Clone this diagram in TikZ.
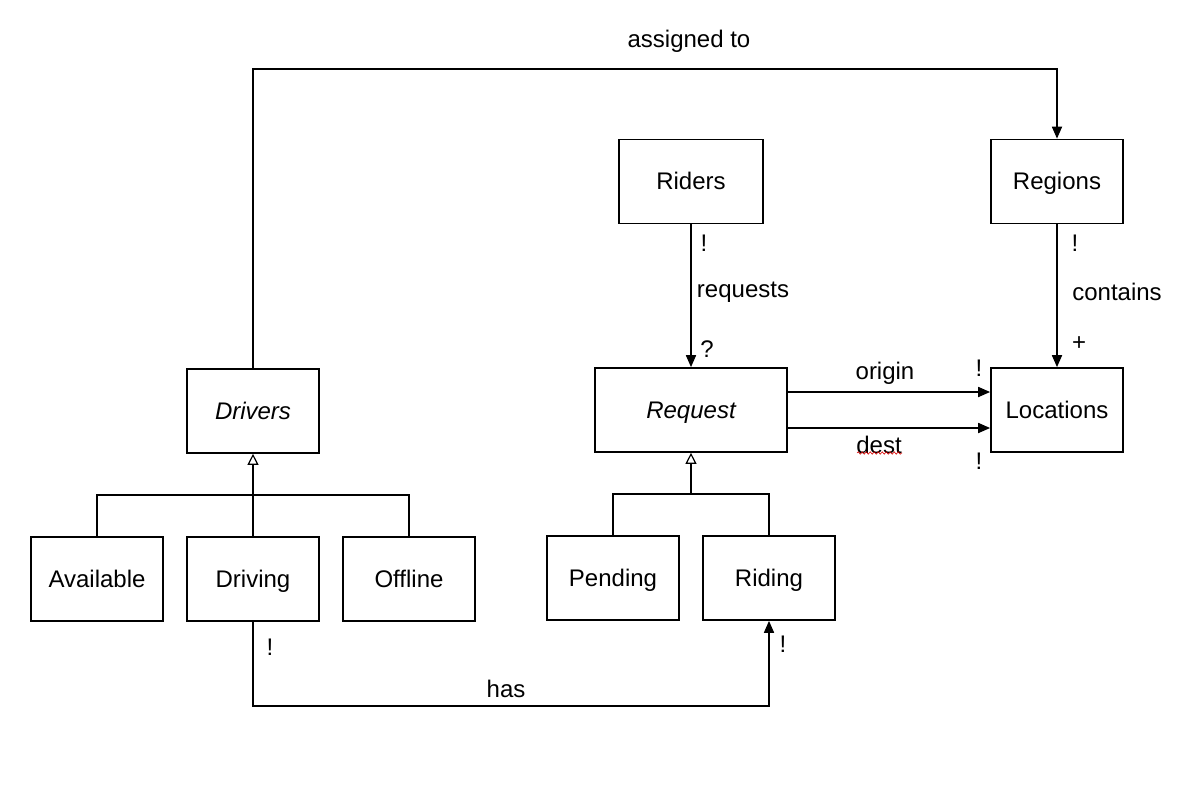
\documentclass[tikz,border=0pt]{standalone}
\usepackage{fontspec}
\setmainfont{Liberation Sans}
\usetikzlibrary{arrows.meta,decorations.pathmorphing}
\begin{document}
\begin{tikzpicture}[x=1pt,y=-1pt,
  box/.style={draw,line width=1.7pt,minimum width=132pt,minimum height=84pt,inner sep=0pt,text height=18pt,text depth=2pt,font=\fontsize{24}{28}\selectfont},
  lbl/.style={font=\fontsize{24}{28}\selectfont,inner sep=0pt,yshift=-2pt},
  conn/.style={line width=1.7pt},
  arr/.style={conn,-{Triangle[length=12pt,width=10pt]}},
  inh/.style={conn,-{Triangle[open,length=11pt,width=11pt,line width=1.2pt]}}]
\useasboundingbox (0,0) rectangle (1195,807);
\node[box,minimum width=144pt] (riders) at (691,181.5) {Riders};
\node[box] (regions) at (1057,181.5) {Regions};
\node[box] (drivers) at (253,411) {\itshape Drivers};
\node[box,minimum width=192pt] (request) at (691,410) {\itshape Request};
\node[box] (locations) at (1057,410) {Locations};
\node[box] (available) at (97,579) {Available};
\node[box] (driving) at (253,579) {Driving};
\node[box] (offline) at (409,579) {Offline};
\node[box] (pending) at (613,578) {Pending};
\node[box] (riding) at (769,578) {Riding};
% assigned to
\draw[arr] (drivers.north) -- (253,69) -- (1057,69) -- (regions.north);
\node[lbl] (lassigned) at (689,39) {assigned to};
% requests
\draw[arr] (riders.south) -- (request.north);
\node[lbl] (lr1) at (704,241) {!};
\node[lbl] (lr2) at (743,290) {requests};
\node[lbl] (lr3) at (707,347) {?};
% contains
\draw[arr] (regions.south) -- (locations.north);
\node[lbl] (lc1) at (1075,241) {!};
\node[lbl] (lc2) at (1117,290) {contains};
\node[lbl] (lc3) at (1079,342) {+};
% origin / dest
\coordinate (o1) at (787,392);
\coordinate (d1) at (787,428);
\draw[arr] (o1) -- (o1 -| locations.west);
\draw[arr] (d1) -- (d1 -| locations.west);
\node[lbl] (lo) at (885,371) {origin};
\node[lbl] (lo2) at (979,366) {!};
\node[lbl] (ld) at (879,443) {dest};
\node[lbl] (ld2) at (979,459) {!};
\draw[red!85!black,line width=0.6pt,decorate,decoration={snake,amplitude=1.2pt,segment length=4pt}] (857,453) -- (902,453);
% drivers inheritance
\coordinate (dbar) at (253,495);
\draw[conn] (available.north) |- (dbar);
\draw[conn] (offline.north) |- (dbar);
\draw[conn] (driving.north) -- (dbar);
\draw[inh] (dbar) -- (drivers.south);
% request inheritance
\coordinate (rbar) at (691,494);
\draw[conn] (pending.north) |- (rbar);
\draw[conn] (riding.north) |- (rbar);
\draw[inh] (rbar) -- (request.south);
% has
\draw[arr] (driving.south) -- (253,706) -- (769,706) -- (riding.south);
\node[lbl] (lh1) at (270,645) {!};
\node[lbl] (lh2) at (506,687) {has};
\node[lbl] (lh3) at (783,642) {!};
\end{tikzpicture}
\end{document}
